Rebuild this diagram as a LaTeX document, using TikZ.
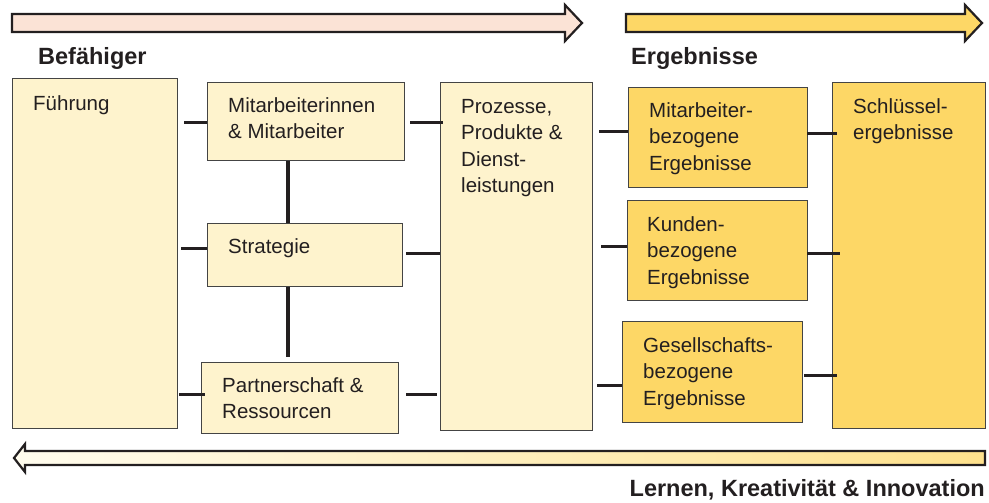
\documentclass[tikz,border=0pt]{standalone}
\usepackage{fontspec}
\setmainfont{Liberation Sans}
\usetikzlibrary{calc}
\definecolor{paleyellow}{HTML}{FEF3CD}
\definecolor{goldyellow}{HTML}{FDD766}
\definecolor{pinkarrow}{HTML}{FBE3D6}
\definecolor{creamarrow}{HTML}{FFFCEE}
\definecolor{darkline}{HTML}{231F20}
\definecolor{boxframe}{HTML}{444444}

\begin{document}
\begin{tikzpicture}[x=1pt,y=-1pt,
	enabler/.style={draw=boxframe,line width=1.2pt,fill=paleyellow,rectangle,inner sep=0,anchor=north west},
	result/.style={enabler,fill=goldyellow},
	boxtext/.style={anchor=north west,inner sep=0,align=left,text=darkline,font=\fontsize{20.5}{26.5}\selectfont},
	heading/.style={inner sep=0,text=darkline,font=\fontsize{23.5}{28}\selectfont\bfseries},
	stub/.style={draw=darkline,line width=3.6pt},
	bigarrow/.style={draw=darkline,line width=2.2pt,line join=miter}]
		
		\useasboundingbox (0,0) rectangle (989,503);
		
		% Big arrows
		\draw[bigarrow,fill=pinkarrow] (12,14) -- (565,14) -- (565,5) -- (582,23) -- (565,41) -- (565,32) -- (12,32) -- cycle;
		\draw[bigarrow,fill=goldyellow] (626,14) -- (965,14) -- (965,5) -- (982,23) -- (965,41) -- (965,32) -- (626,32) -- cycle;
		\draw[bigarrow,left color=creamarrow,right color=goldyellow!75] (985,451) -- (25,451) -- (25,444) -- (14,458) -- (25,472) -- (25,465) -- (985,465) -- cycle;
		
		% Headings
		\node[heading,anchor=base west] (enablers) at (38,65) {Befähiger};
		\node[heading,anchor=base west] (results) at (631,65) {Ergebnisse};
		\node[heading,anchor=base east] (learning) at (985,496) {Lernen, Kreativität \& Innovation};
		
		% Enabler boxes
		\node[enabler,minimum width=165,minimum height=350] (fuehrung) at (12,78) {};
		\node[enabler,minimum width=197,minimum height=78] (mitarb) at (207,82) {};
		\node[enabler,minimum width=195,minimum height=63] (strategie) at (207,223) {};
		\node[enabler,minimum width=197,minimum height=71] (partner) at (201,362) {};
		\node[enabler,minimum width=152,minimum height=348] (prozesse) at (440,82) {};
		
		% Result boxes
		\node[result,minimum width=179,minimum height=100] (mbez) at (628,87) {};
		\node[result,minimum width=180,minimum height=100] (kbez) at (627,200) {};
		\node[result,minimum width=180,minimum height=101] (gbez) at (622,321) {};
		\node[result,minimum width=153,minimum height=346] (schluessel) at (832,82) {};
		
		% Box texts
		\node[boxtext] (fuehrung-t) at ($(fuehrung.north west)+(21,17)$) {Führung};
		\node[boxtext] (mitarb-t) at ($(mitarb.north west)+(21,15)$) {Mitarbeiterinnen\\\& Mitarbeiter};
		\node[boxtext] (strategie-t) at ($(strategie.north west)+(21,15)$) {Strategie};
		\node[boxtext] (partner-t) at ($(partner.north west)+(21,15)$) {Partnerschaft \&\\Ressourcen};
		\node[boxtext] (prozesse-t) at ($(prozesse.north west)+(21,17)$) {Prozesse,\\Produkte \&\\Dienst-\\leistungen};
		\node[boxtext] (mbez-t) at ($(mbez.north west)+(21,15)$) {Mitarbeiter-\\bezogene\\Ergebnisse};
		\node[boxtext] (kbez-t) at ($(kbez.north west)+(20,16)$) {Kunden-\\bezogene\\Ergebnisse};
		\node[boxtext] (gbez-t) at ($(gbez.north west)+(21,16)$) {Gesellschafts-\\bezogene\\Ergebnisse};
		\node[boxtext] (schluessel-t) at ($(schluessel.north west)+(21,16)$) {Schlüssel-\\ergebnisse};
		
		% Connectors: Führung to the enablers
		\draw[stub] ($(fuehrung.east |- mitarb.west)+(6,1)$) -- ($(mitarb.west)+(0,1)$);
		\draw[stub] ($(fuehrung.east |- strategie.west)+(3,-6.5)$) -- ($(strategie.west)+(0,-6.5)$);
		\draw[stub] ($(fuehrung.east |- partner.west)+(1,-3.5)$) -- ($(partner.west)+(4,-3.5)$);
		
		% Connectors: enablers among themselves
		\draw[stub] ($(mitarb.south west)+(81,0)$) -- ($(strategie.north west)+(81,0)$);
		\draw[stub] ($(strategie.south west)+(81,0)$) -- ($(partner.north west)+(87,-5)$);
		
		% Connectors: enablers to Prozesse
		\draw[stub] ($(mitarb.east)+(5,1)$) -- ($(prozesse.west |- mitarb.east)+(3,1)$);
		\draw[stub] ($(strategie.east)+(3,-1.5)$) -- ($(prozesse.west |- strategie.east)+(0,-1.5)$);
		\draw[stub] ($(partner.east)+(7,-3.5)$) -- ($(prozesse.west |- partner.east)+(-3,-3.5)$);
		
		% Connectors: Prozesse to the results
		\draw[stub] ($(prozesse.east |- mbez.west)+(6,-6)$) -- ($(mbez.west)+(0,-6)$);
		\draw[stub] ($(prozesse.east |- kbez.west)+(8,-4)$) -- ($(kbez.west)+(0,-4)$);
		\draw[stub] ($(prozesse.east |- gbez.west)+(4,13.5)$) -- ($(gbez.west)+(0,13.5)$);
		
		% Connectors: results to Schlüsselergebnisse
		\draw[stub] ($(mbez.east)+(-1,-4)$) -- ($(schluessel.west |- mbez.east)+(5,-4)$);
		\draw[stub] ($(kbez.east)+(-1,3)$) -- ($(schluessel.west |- kbez.east)+(8,3)$);
		\draw[stub] ($(gbez.east)+(1,3.5)$) -- ($(schluessel.west |- gbez.east)+(5,3.5)$);
		
	\end{tikzpicture}
\end{document}
